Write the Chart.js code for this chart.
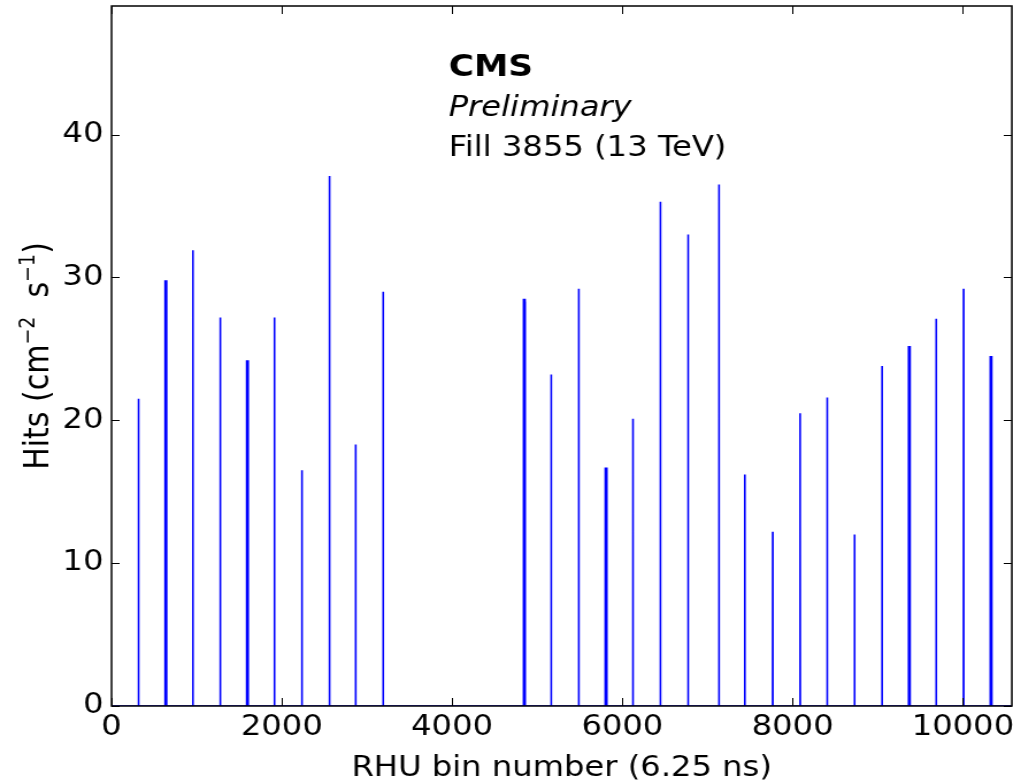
<!DOCTYPE html>
<html>
<head>
<meta charset="utf-8">
<script src="https://cdn.jsdelivr.net/npm/chart.js@4.4.1/dist/chart.umd.min.js"></script>
<style>
  html, body { margin: 0; padding: 0; background: #fff; overflow: hidden; }
  /* the original figure is stretched sideways, so the canvas is too */
  #chart { display: block; transform: scaleX(1.1498); transform-origin: 0 0; }
</style>
</head>
<body>
<canvas id="chart" width="881" height="782"></canvas>
<script>
// RHU bin of each bunch train peak, its hit rate and the next bin's rate
var spikeBins = [317, 637, 955, 1277, 1595, 1913, 2236, 2560, 2867, 3190,
                 4848, 5164, 5488, 5808, 6124, 6447, 6772, 7135,
                 7438, 7766, 8088, 8406, 8727, 9050, 9370, 9686, 10008, 10330];
var spikePeak = [21.5, 29.8, 31.9, 27.2, 24.2, 27.2, 16.5, 37.1, 18.3, 29.0,
                 28.5, 23.2, 29.2, 16.7, 20.1, 35.3, 33.0, 36.5,
                 16.2, 12.2, 20.5, 21.6, 12.0, 23.8, 25.2, 27.1, 29.2, 24.5];
var spikeNext = [13.8, 29.5, 20.6, 17.6, 24.0, 17.5, 10.7, 24.2, 11.8, 18.9,
                 28.3, 14.8, 19.1, 16.5, 13.0, 22.9, 21.5, 23.4,
                 10.4, 8.2, 13.5, 14.1, 7.7, 15.6, 25.0, 17.5, 19.3, 24.3];
var xTicks = [0, 2000, 4000, 6000, 8000, 10000];
var yTicks = [0, 10, 20, 30, 40];
var xMax = 10575;
var yMax = 49;

var points = [{x: 0, y: 0}];
for (var i = 0; i < spikeBins.length; i++) {
    points.push({x: spikeBins[i] - 1, y: 0});
    points.push({x: spikeBins[i], y: spikePeak[i]});
    points.push({x: spikeBins[i] + 1, y: spikeNext[i]});
    points.push({x: spikeBins[i] + 2, y: 0});
}
points.push({x: xMax, y: 0});

// a spike whose next bin is about as high looks twice as thick
function segWidth(ctx) {
    var k = ctx.p0DataIndex - 1;
    if (k < 0 || k % 4 == 3) return 1.6;
    var s = Math.floor(k / 4);
    return spikeNext[s] >= 0.95 * spikePeak[s] ? 2.8 : 1.6;
}

var framePlugin = {
    id: 'frame',
    afterDraw: function (chart) {
        var ctx = chart.ctx;
        var a = chart.chartArea;
        var xs = chart.scales.x, ys = chart.scales.y;
        ctx.save();
        ctx.strokeStyle = '#000';
        ctx.lineWidth = 1;
        ctx.beginPath();
        xTicks.forEach(function (v) {
            var px = Math.round(xs.getPixelForValue(v)) + 0.5;
            ctx.moveTo(px, a.bottom); ctx.lineTo(px, a.bottom - 8);
            ctx.moveTo(px, a.top); ctx.lineTo(px, a.top + 8);
        });
        yTicks.forEach(function (v) {
            var py = Math.round(ys.getPixelForValue(v)) + 0.5;
            ctx.moveTo(a.left, py); ctx.lineTo(a.left + 7, py);
            ctx.moveTo(a.right, py); ctx.lineTo(a.right - 7, py);
        });
        ctx.stroke();
        ctx.lineWidth = 1.5;
        ctx.strokeRect(a.left, a.top, a.right - a.left, a.bottom - a.top);

        // CMS label
        ctx.fillStyle = '#000';
        ctx.textAlign = 'left';
        ctx.textBaseline = 'alphabetic';
        var tx = xs.getPixelForValue(3960);
        ctx.font = "bold 30px 'DejaVu Sans'";
        ctx.fillText('CMS', tx, ys.getPixelForValue(44.1));
        ctx.font = "italic 28px 'DejaVu Sans'";
        ctx.fillText('Preliminary', tx, ys.getPixelForValue(41.3));
        ctx.font = "28px 'DejaVu Sans'";
        ctx.fillText('Fill 3855 (13 TeV)', tx, ys.getPixelForValue(38.5));

        // y title with superscripts
        var parts = [
            {t: 'Hits (cm', f: "30px 'DejaVu Sans'", up: 0},
            {t: '\u22122', f: "19px 'DejaVu Sans'", up: 12},
            {t: '  s', f: "30px 'DejaVu Sans'", up: 0},
            {t: '\u22121', f: "19px 'DejaVu Sans'", up: 12},
            {t: ')', f: "30px 'DejaVu Sans'", up: 0}
        ];
        var total = 0;
        parts.forEach(function (p) { ctx.font = p.f; p.w = ctx.measureText(p.t).width; total += p.w; });
        ctx.translate(41.5, (a.top + a.bottom) / 2);
        ctx.rotate(-Math.PI / 2);
        var cx = -total / 2;
        parts.forEach(function (p) {
            ctx.font = p.f;
            ctx.fillText(p.t, cx, -p.up);
            cx += p.w;
        });
        ctx.restore();
    }
};

function plainLabel(v) { return String(v); }

var chart = new Chart(document.getElementById('chart'), {
    type: 'line',
    data: {
        datasets: [{
            data: points,
            borderColor: '#0000ff',
            borderWidth: 1.6,
            borderJoinStyle: 'bevel',
            pointRadius: 0,
            fill: false,
            tension: 0,
            segment: { borderWidth: segWidth }
        }]
    },
    options: {
        responsive: false,
        animation: false,
        devicePixelRatio: 1,
        layout: { padding: { top: 6, right: 1, left: 0, bottom: 0 } },
        plugins: { legend: { display: false }, tooltip: { enabled: false } },
        scales: {
            x: {
                type: 'linear',
                min: 0,
                max: xMax,
                grid: { display: false, drawTicks: false },
                border: { display: false },
                afterBuildTicks: function (s) { s.ticks = xTicks.map(function (v) { return {value: v}; }); },
                afterFit: function (s) { s.height = 76; s.paddingLeft = 0; s.paddingRight = 0; },
                ticks: {
                    color: '#000',
                    padding: 5,
                    maxRotation: 0,
                    callback: plainLabel,
                    font: { family: 'DejaVu Sans', size: 28 }
                },
                title: {
                    display: true,
                    text: 'RHU bin number (6.25 ns)',
                    color: '#000',
                    padding: { top: 0, bottom: -4 },
                    font: { family: 'DejaVu Sans', size: 28 }
                }
            },
            y: {
                min: 0,
                max: yMax,
                grid: { display: false, drawTicks: false },
                border: { display: false },
                afterBuildTicks: function (s) { s.ticks = yTicks.map(function (v) { return {value: v}; }); },
                afterFit: function (s) { s.width = 97; s.paddingTop = 0; s.paddingBottom = 0; },
                ticks: {
                    color: '#000',
                    padding: 7,
                    callback: plainLabel,
                    font: { family: 'DejaVu Sans', size: 28 }
                }
            }
        }
    },
    plugins: [framePlugin]
});
</script>
</body>
</html>
